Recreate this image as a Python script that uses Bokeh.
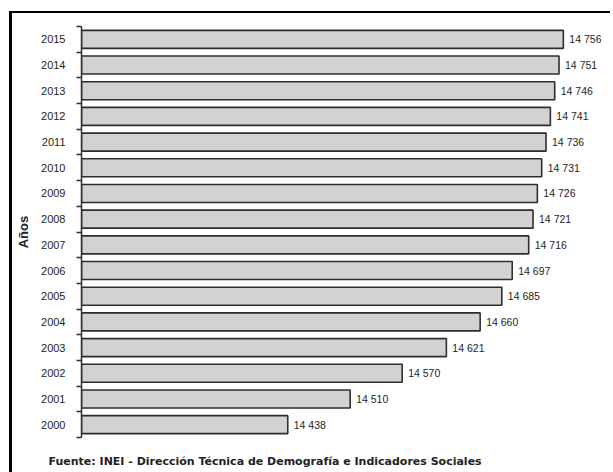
from bokeh.plotting import figure
from bokeh.models import Range1d, FixedTicker, Title, ColumnDataSource
from bokeh.core.properties import value
from bokeh.embed import file_html
from bokeh.resources import INLINE

years = ["2000", "2001", "2002", "2003", "2004", "2005", "2006", "2007",
         "2008", "2009", "2010", "2011", "2012", "2013", "2014", "2015"]
values = [14438, 14510, 14570, 14621, 14660, 14685, 14697, 14716,
          14721, 14726, 14731, 14736, 14741, 14746, 14751, 14756]
x_start = 14200
x_end = 14800
axis_title = "Años"
source_note = "Fuente: INEI - Dirección Técnica de Demografía e Indicadores Sociales"

centers = [i + 0.5 for i in range(len(years))]
labels = [f"{v // 1000} {v % 1000:03d}" for v in values]
src = ColumnDataSource(dict(y=centers, v=values, lab=labels))

p = figure(frame_width=520, frame_height=411, output_backend="svg",
           toolbar_location=None,
           x_range=Range1d(x_start, x_end), y_range=Range1d(0, len(years)),
           min_border_left=69, min_border_top=13,
           min_border_right=9, min_border_bottom=0)
p.styles = {"margin-left": "9px", "margin-top": "11px",
            "border-left": "3px solid black", "border-top": "2px solid black"}
p.xaxis.visible = False
p.xgrid.visible = False
p.ygrid.visible = False
p.outline_line_color = None
p.background_fill_color = "white"
p.border_fill_color = "white"

p.hbar(y="y", left=x_start, right="v", height=0.7, source=src,
       fill_color="#d2d2d2", line_color="#2e2e2e", line_width=1.6)
p.text(x="v", y="y", text="lab", source=src, x_offset=6,
       text_baseline="middle", text_align="left",
       text_font=value("Liberation Sans"), text_font_size="10.5px",
       text_color="#1e1e1e")

ya = p.yaxis[0]
ya.ticker = FixedTicker(ticks=centers, minor_ticks=list(range(len(years) + 1)))
ya.major_label_overrides = {c: y for c, y in zip(centers, years)}
ya.major_tick_line_color = None
ya.minor_tick_line_color = "#2e2e2e"
ya.minor_tick_line_width = 1.5
ya.minor_tick_out = 5
ya.minor_tick_in = 0
ya.axis_line_color = "#2e2e2e"
ya.axis_line_width = 1.5
ya.major_label_standoff = 10
ya.major_label_text_font = "Liberation Sans"
ya.major_label_text_font_size = "11px"
ya.major_label_text_color = "#1e1e1e"
ya.axis_label = axis_title
ya.axis_label_text_font = "Liberation Sans"
ya.axis_label_text_font_style = "bold"
ya.axis_label_text_font_size = "13px"
ya.axis_label_text_color = "#222222"
ya.axis_label_standoff = 7

p.add_layout(Title(text=source_note, align="left", offset=-33, standoff=31,
                   text_font="DejaVu Sans", text_font_size="11px",
                   text_font_style="bold", text_color="#222222"), "below")

open("out.html", "w").write(file_html(p, INLINE))
